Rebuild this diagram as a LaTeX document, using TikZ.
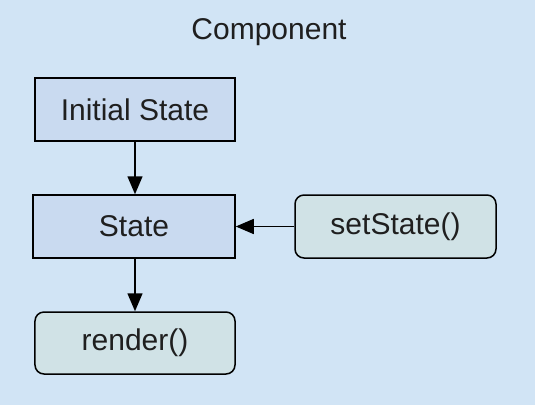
\documentclass[tikz,border=0pt]{standalone}
\usepackage{fontspec}
\setmainfont{Liberation Sans}
\usetikzlibrary{arrows.meta}
\definecolor{bg}{RGB}{209,228,245}
\definecolor{rectfill}{RGB}{201,218,240}
\definecolor{roundfill}{RGB}{208,226,230}
\begin{document}
\begin{tikzpicture}[x=1bp,y=-1bp,
  base/.style={draw=black, line width=1.5bp, minimum height=63bp, inner sep=0pt, font=\fontsize{30bp}{33bp}\selectfont, text=black!88},
  rectbox/.style={base, fill=rectfill},
  roundbox/.style={base, fill=roundfill, rounded corners=9bp},
  conn/.style={line width=1.5bp, -{Triangle[width=15bp,length=18bp]}}]
\fill[bg] (0,0) rectangle (535,405);
\useasboundingbox (0,0) rectangle (535,405);
\node[font=\fontsize{30bp}{33bp}\selectfont, text=black!88] (title) at (269,32) {Component};
\node[rectbox, minimum width=200bp] (init) at (135,109.5) {Initial State};
\node[rectbox, minimum width=202bp] (state) at (134,226.5) {State};
\node[roundbox, minimum width=201bp] (set) at (395.5,226.5) {setState()};
\node[roundbox, minimum width=200bp, minimum height=62bp] (render) at (135,343) {render()};
\draw[conn] (init.south -| 135,0) -- (state.north -| 135,0);
\draw[conn] (state.south -| 135,0) -- (render.north -| 135,0);
\draw[conn] (set.west) -- (state.east);
\end{tikzpicture}
\end{document}
